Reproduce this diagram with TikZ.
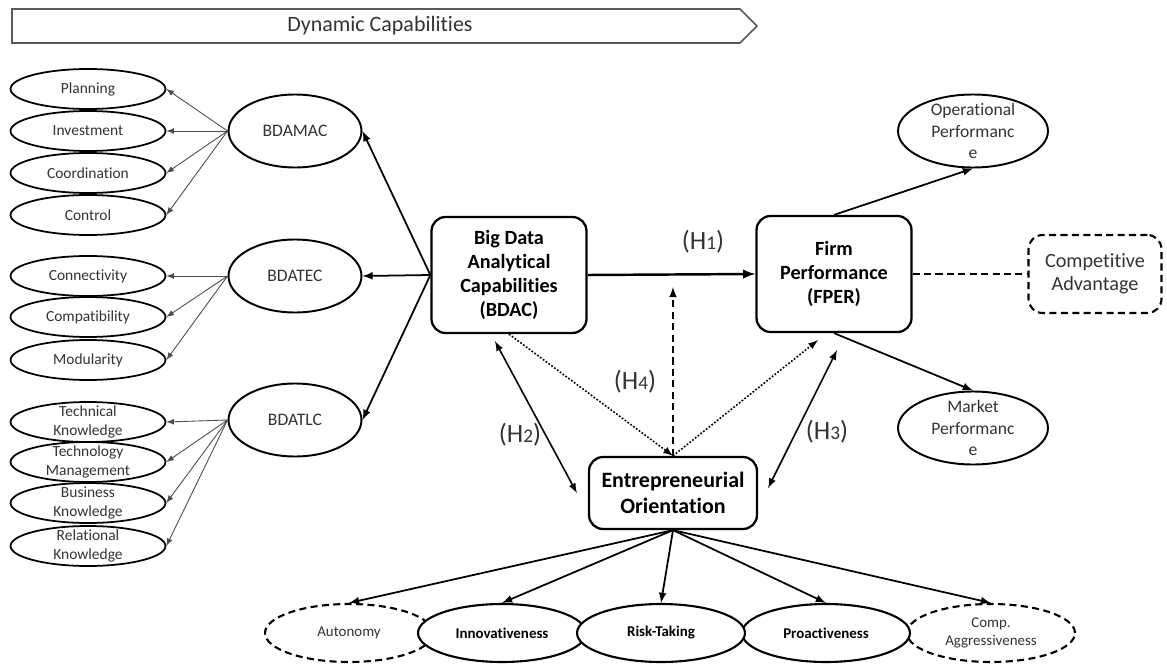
\documentclass[tikz,border=0pt]{standalone}
\usepackage{fontspec}
\setmainfont{Carlito}[Ligatures=NoCommon]
\usepackage{tikz}
\usetikzlibrary{scopes,shapes.geometric}

\begin{document}
\begin{tikzpicture}[
    x=0.02cm,y=-0.02cm,
    >=latex,
    txt/.style={text=black!80},
    leaf/.style={ellipse,draw,line width=1pt,minimum width=3.1cm,minimum height=0.8cm,inner xsep=0pt,inner ysep=-12pt,font=\fontsize{8.8}{10.5}\selectfont,align=center,text=black!80},
    dim/.style={ellipse,draw,line width=1.1pt,minimum width=2.66cm,minimum height=1.46cm,font=\fontsize{10}{12}\selectfont,text=black!80},
    cons/.style={rectangle,rounded corners=8pt,draw,line width=1.3pt,minimum width=3.1cm,minimum height=2.32cm,font=\fontsize{11.5}{13.5}\selectfont\bfseries,align=center},
    perf/.style={ellipse,draw,line width=1.1pt,minimum width=3cm,minimum height=1.46cm,inner ysep=-20pt,font=\fontsize{10}{12}\selectfont,align=center,text=black!80},
    adv/.style={rectangle,rounded corners=8pt,draw,line width=1.2pt,dash pattern=on 4pt off 2.5pt,minimum width=2.66cm,minimum height=1.56cm,font=\fontsize{11.5}{13}\selectfont,align=center,text=black!80},
    eodim/.style={ellipse,draw,fill=white,line width=1.2pt,minimum width=3.36cm,minimum height=1.16cm,inner ysep=-8pt,font=\fontsize{8.5}{10.5}\selectfont\bfseries,align=center},
    latent/.style={eodim,dash pattern=on 4pt off 2.5pt,font=\fontsize{8.5}{10.5}\selectfont,text=black!80},
    hyp/.style={font=\fontsize{15}{15}\selectfont,text=black!80},
    twig/.style={->,draw=black!70,line width=0.5pt},
    link/.style={->,line width=1pt},
    rel/.style={<->,line width=0.9pt},
]
    \useasboundingbox (0,0) rectangle (1167,666);

    %%%
    % Dynamic capabilities banner
    \draw[black!65,line width=0.9pt] (12,9) -- (740,9) -- (757,26) -- (740,43) -- (12,43) -- cycle;
    \node[txt,font=\fontsize{12.5}{14}\selectfont] (dyncap) at (380,26) {Dynamic Capabilities};

    %%%
    % First order dimensions of BDAC
    \node[leaf] (plan) at (88,89) {Planning};
    \node[leaf] (invest) at (88,131) {Investment};
    \node[leaf] (coord) at (88,173) {Coordination};
    \node[leaf] (ctrl) at (88,215) {Control};
    \node[leaf] (connect) at (88,276) {Connectivity};
    \node[leaf] (compat) at (88,317) {Compatibility};
    \node[leaf] (modul) at (88,360) {Modularity};
    \node[leaf] (techknow) at (88,422) {Technical\\Knowledge};
    \node[leaf] (techman) at (88,462) {Technology\\Management};
    \node[leaf] (busknow) at (88,503) {Business\\Knowledge};
    \node[leaf] (relknow) at (88,546) {Relational\\Knowledge};

    \node[dim] (bdamac) at (295,131) {BDAMAC};
    \node[dim] (bdatec) at (295,276) {BDATEC};
    \node[dim] (bdatlc) at (295,420) {BDATLC};

    {[twig]
        \draw (bdamac.west) -- (plan.east);
        \draw (bdamac.west) -- (invest.east);
        \draw (bdamac.west) -- (coord.east);
        \draw (bdamac.west) -- (ctrl.east);
        \draw (bdatec.west) -- (connect.east);
        \draw (bdatec.west) -- (compat.east);
        \draw (bdatec.west) -- (modul.east);
        \draw (bdatlc.west) -- (techknow.east);
        \draw (bdatlc.west) -- (techman.east);
        \draw (bdatlc.west) -- (busknow.east);
        \draw (bdatlc.west) -- (relknow.east);
    }

    %%%
    % Main constructs
    \node[cons] (bdac) at (509,275) {Big Data\\Analytical\\Capabilities\\(BDAC)};
    \node[cons] (fper) at (834,274) {Firm\\Performance\\(FPER)};
    \node[cons,minimum width=3.36cm,minimum height=1.44cm,font=\fontsize{12.5}{15}\selectfont\bfseries] (eo) at (673,493) {Entrepreneurial\\Orientation};

    {[link]
        \draw (bdac.west) -- (bdamac.east);
        \draw (bdac.west) -- (bdatec.east);
        \draw (bdac.west) -- (bdatlc.east);
    }

    %%%
    % Firm performance and its outcomes
    \node[perf] (operf) at (973,131) {Operational\\Performanc\\e};
    \node[perf] (mperf) at (973,428) {Market\\Performanc\\e};
    \node[adv] (compadv) at (1095,274) {Competitive\\Advantage};

    {[link]
        \draw (fper.north) -- (operf.south);
        \draw (fper.south) -- (mperf.north);
    }
    \draw[line width=1.2pt,dash pattern=on 4pt off 2.5pt] (fper.east) -- (compadv.west);

    %%%
    % Hypotheses
    \draw[->,line width=1.4pt] (bdac.east) -- (fper.west);
    \node[hyp] (h1) at (703,242) {(H{\fontsize{11}{11}\selectfont 1})};

    \draw[rel] ([shift={(-14,7)}]bdac.south) -- ([shift={(-11,0)}]eo.west);
    \node[hyp] (h2) at (520,435) {(H{\fontsize{11}{11}\selectfont 2})};

    \draw[rel] ([shift={(10,-5)}]eo.east) -- ([shift={(3,17)}]fper.south);
    \node[hyp] (h3) at (827,432) {(H{\fontsize{11}{11}\selectfont 3})};

    \coordinate (h4tip) at (673,287);
    \draw[->,line width=1pt,dash pattern=on 4pt off 2.5pt] (eo.north) -- (h4tip);
    \node[hyp] (h4) at (635,382) {(H{\fontsize{11}{11}\selectfont 4})};

    {[->,line width=0.9pt,dash pattern=on 1pt off 1pt]
        \draw (bdac.south) -- (eo.north);
        \draw (eo.north) -- ([shift={(-16,7)}]fper.south);
    }

    %%%
    % Dimensions of entrepreneurial orientation
    \node[latent] (auto) at (349,633) {Autonomy};
    \node[latent] (compagg) at (991,633) {Comp.\\Aggressiveness};
    \node[eodim] (innov) at (502,633) {Innovativeness};
    \node[eodim] (proact) at (826,633) {Proactiveness};
    \node[eodim] (risk) at (661,633) {Risk-Taking};

    {[link]
        \draw (eo.south) -- (auto.north);
        \draw (eo.south) -- (innov.north);
        \draw (eo.south) -- (risk.north);
        \draw (eo.south) -- (proact.north);
        \draw (eo.south) -- (compagg.north);
    }

\end{tikzpicture}
\end{document}
